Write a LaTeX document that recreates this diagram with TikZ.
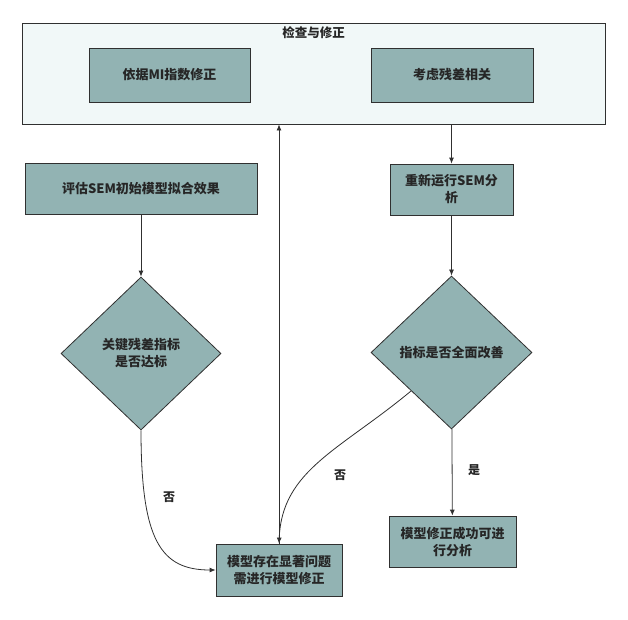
\documentclass[tikz,border=0pt]{standalone}
\usepackage{fontspec}
\setmainfont{Noto Sans CJK SC}
\usetikzlibrary{shapes.geometric,arrows.meta}
\definecolor{boxfill}{HTML}{92B3B3}
\definecolor{contfill}{HTML}{F1F8F8}
\definecolor{edgec}{HTML}{303030}
\tikzset{
  box/.style={draw=edgec,line width=0.8pt,fill=boxfill,inner sep=2pt,align=center,font=\fontsize{13}{17}\selectfont\bfseries,text=black!85},
  dia/.style={diamond,draw=edgec,line width=0.8pt,fill=boxfill,inner sep=0pt,align=center,font=\fontsize{13}{17}\selectfont\bfseries,text=black!85},
  conn/.style={draw=edgec,line width=0.8pt,-{Latex[length=6pt,width=5pt]}},
  lbl/.style={font=\fontsize{12}{14}\selectfont\bfseries,text=black!85}
}
\begin{document}
\begin{tikzpicture}[x=1pt,y=-1pt]
\useasboundingbox (0,0) rectangle (628,619);
% container
\node[draw=edgec,line width=0.8pt,fill=contfill,minimum width=583pt,minimum height=101pt,inner sep=0pt] (cont) at (313.5,73.5) {};
\node[lbl,font=\fontsize{12.5}{14}\selectfont\bfseries] (ttl) at (313.5,33) {检查与修正};
\node[box,minimum width=161pt,minimum height=54pt] (mi) at (169.5,75) {依据MI指数修正};
\node[box,minimum width=162pt,minimum height=54pt] (resid) at (452,75) {考虑残差相关};
% left column
\node[box,minimum width=232pt,minimum height=51pt] (eval) at (141,188.5) {评估SEM初始模型拟合效果};
\node[dia,minimum width=160pt,minimum height=153pt] (d1) at (141,353.5) {关键残差指标\\是否达标};
% right column
\node[box,minimum width=123pt,minimum height=51pt] (rerun) at (451.5,189.5) {重新运行SEM分\\析};
\node[dia,minimum width=161pt,minimum height=153pt] (d2) at (451.5,352.5) {指标是否全面改善};
\node[box,minimum width=127pt,minimum height=51pt] (ok) at (452.5,541.5) {模型修正成功可进\\行分析};
% bottom
\node[box,minimum width=126pt,minimum height=52pt] (fix) at (279,570) {模型存在显著问题\\需进行模型修正};
% connectors
\draw[conn] (eval) -- (d1);
\draw[conn] (rerun.north |- cont.south) -- (rerun.north);
\draw[conn] (fix.north) -- (fix.north |- cont.south);
\draw[conn] (rerun) -- (d2);
\draw[conn] (d2) -- (ok);
\draw[conn] (d1.south) .. controls +(0,110) and +(-55,0) .. (fix.west);
\draw[conn] (d2.south west) .. controls (340,450) and (282,470) .. (fix.north);
% labels
\node[lbl] (yes) at (474,470) {是};
\node[lbl] (no1) at (169,497) {否};
\node[lbl] (no2) at (340,475) {否};
\end{tikzpicture}
\end{document}
